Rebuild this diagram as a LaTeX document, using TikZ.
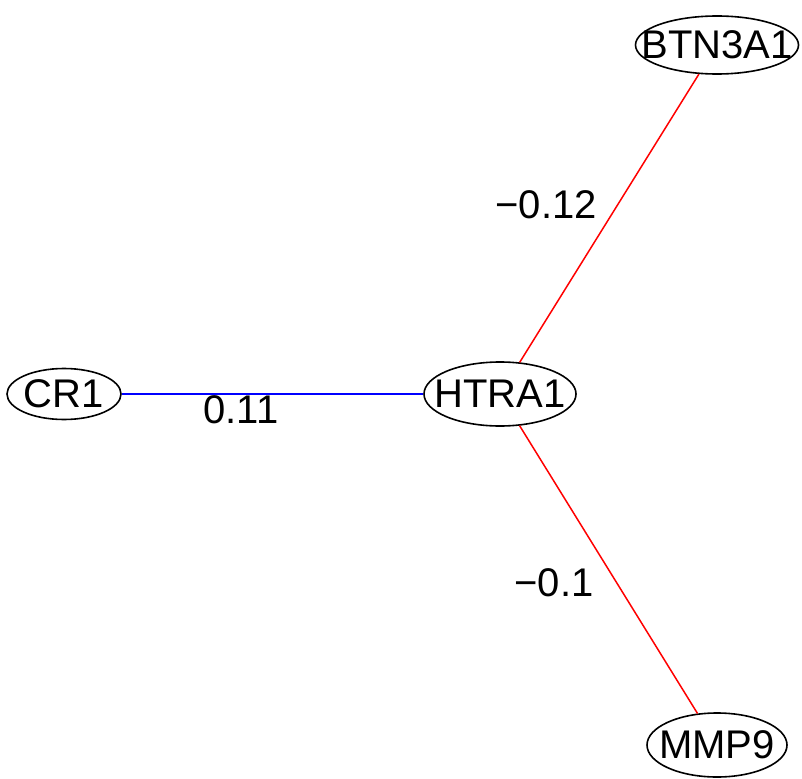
\documentclass[tikz,border=0pt]{standalone}
\usepackage{fontspec}
\setmainfont{Liberation Sans}
\usetikzlibrary{shapes.geometric}

\tikzset{
  gtext/.style={inner sep=0pt, font=\fontsize{40}{46}\selectfont},
  gene/.style={draw, ellipse, inner sep=0pt, line width=1.6pt,
    label={[gtext]center:#1}},
  wlab/.style={inner sep=0pt, font=\fontsize{40}{46}\selectfont},
  posedge/.style={blue, line width=1.5pt},
  negedge/.style={red, line width=1.5pt}
}

\begin{document}
\begin{tikzpicture}[x=1pt, y=-1pt]
    \useasboundingbox (0,0) rectangle (802,778);
    % genes
    \node[gene=BTN3A1, minimum width=163pt, minimum height=58pt] (btn) at (717,45) {};
    \node[gene=HTRA1, minimum width=152pt, minimum height=64pt] (htra) at (500,394) {};
    \node[gene=CR1, minimum width=114pt, minimum height=51pt] (cr) at (64,394) {};
    \node[gene=MMP9, minimum width=140pt, minimum height=64pt] (mmp) at (717,745) {};
    % correlations
    \draw[posedge] (cr) -- (htra);
    \draw[negedge] (htra) -- (btn);
    \draw[negedge] (htra) -- (mmp);
    \node[wlab] (wcr) at (241,410) {0.11};
    \node[wlab] (wbtn) at (546,205) {−0.12};
    \node[wlab] (wmmp) at (554,583) {−0.1};
\end{tikzpicture}
\end{document}
